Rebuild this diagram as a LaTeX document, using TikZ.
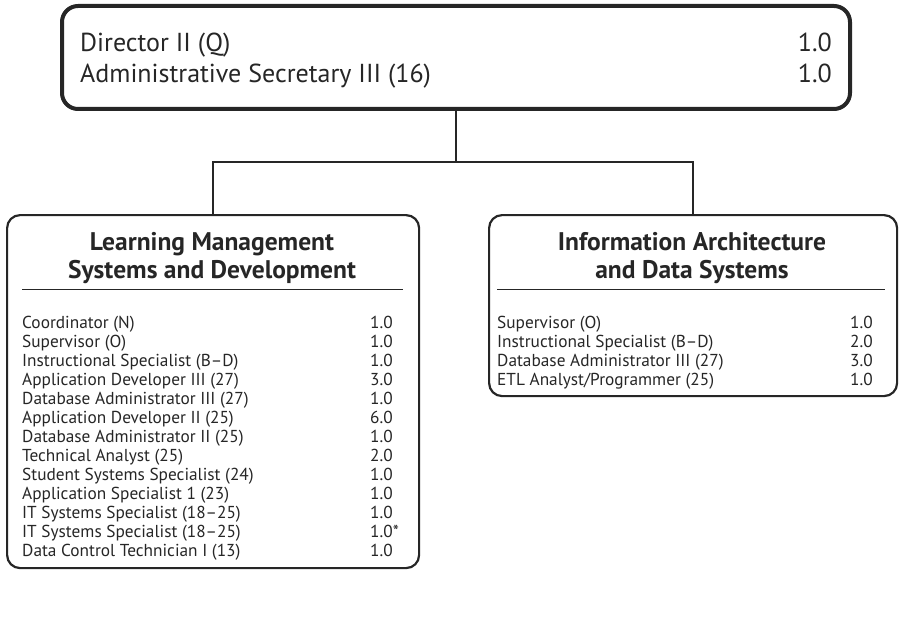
\documentclass[tikz,border=0pt]{standalone}
\usepackage{fontspec}
\setmainfont{PT Sans}
\usepackage{tikz}
\usetikzlibrary{positioning,calc}

\begin{document}
\begin{tikzpicture}[
  x=1pt,y=-1pt,
  headbox/.style={rectangle,draw=black!85,line width=4pt,rounded corners=16pt,anchor=north west,inner sep=0pt},
  unitbox/.style={rectangle,draw=black!85,line width=2.2pt,rounded corners=13pt,anchor=north west,inner sep=0pt},
  link/.style={draw=black!85,line width=2pt},
  headtext/.style={font=\fontsize{26}{30}\selectfont,text=black!85,inner sep=0pt},
  titletext/.style={font=\fontsize{25.5}{28}\selectfont\bfseries,text=black!85,align=center,inner sep=0pt},
  itemtext/.style={font=\fontsize{17.3}{19}\selectfont,text=black!85,inner sep=0pt}
]
\useasboundingbox (0,0) rectangle (903,626);

% boxes
\node[headbox,minimum width=788pt,minimum height=103pt] (top) at (60,4) {};
\node[unitbox,minimum width=412pt,minimum height=353pt] (lms) at (6,214) {};
\node[unitbox,minimum width=408pt,minimum height=181pt] (iads) at (488,214) {};

% connectors
\draw[link] (top.south) -- ++(0,51) coordinate (split) -| (lms.north);
\draw[link] (split) -| (iads.north);

% top box
\node[headtext,anchor=base west] (dir) at (80,52) {Director II (Q)};
\node[headtext,anchor=base east] (dirval) at (832,52) {1.0};
\node[headtext,anchor=base west] (sec) at (80,82) {Administrative Secretary III (16)};
\node[headtext,anchor=base east] (secval) at (832,82) {1.0};

% titles and rules
\node[titletext,anchor=base] (lmstitle) at (212,278) {Learning Management\\Systems and Development};
\draw[line width=1pt,black!85] (22,289) -- (403,289);
\node[titletext,anchor=base] (iadstitle) at (692,278) {Information Architecture\\and Data Systems};
\draw[line width=1pt,black!85] (497,289) -- (885,289);

% staff lists
\foreach \pos/\val [count=\i] in {
  Coordinator (N)/1.0, Supervisor (O)/1.0, Instructional Specialist (B–D)/1.0,
  Application Developer III (27)/3.0, Database Administrator III (27)/1.0,
  Application Developer II (25)/6.0, Database Administrator II (25)/1.0,
  Technical Analyst (25)/2.0, Student Systems Specialist (24)/1.0,
  Application Specialist 1 (23)/1.0, IT Systems Specialist (18–25)/1.0,
  IT Systems Specialist (18–25)/{1.0\rlap{*}}, Data Control Technician I (13)/1.0}
{
  \node[itemtext,anchor=base west] (lmsrow\i) at (22,309+19*\i) {\pos};
  \node[itemtext,anchor=base east] (lmsval\i) at (393,309+19*\i) {\val};
}
\foreach \pos/\val [count=\i] in {
  Supervisor (O)/1.0, Instructional Specialist (B–D)/2.0,
  Database Administrator III (27)/3.0, {ETL Analyst/Programmer (25)}/1.0}
{
  \node[itemtext,anchor=base west] (iadsrow\i) at (497,309+19*\i) {\pos};
  \node[itemtext,anchor=base east] (iadsval\i) at (873,309+19*\i) {\val};
}
\end{tikzpicture}
\end{document}
